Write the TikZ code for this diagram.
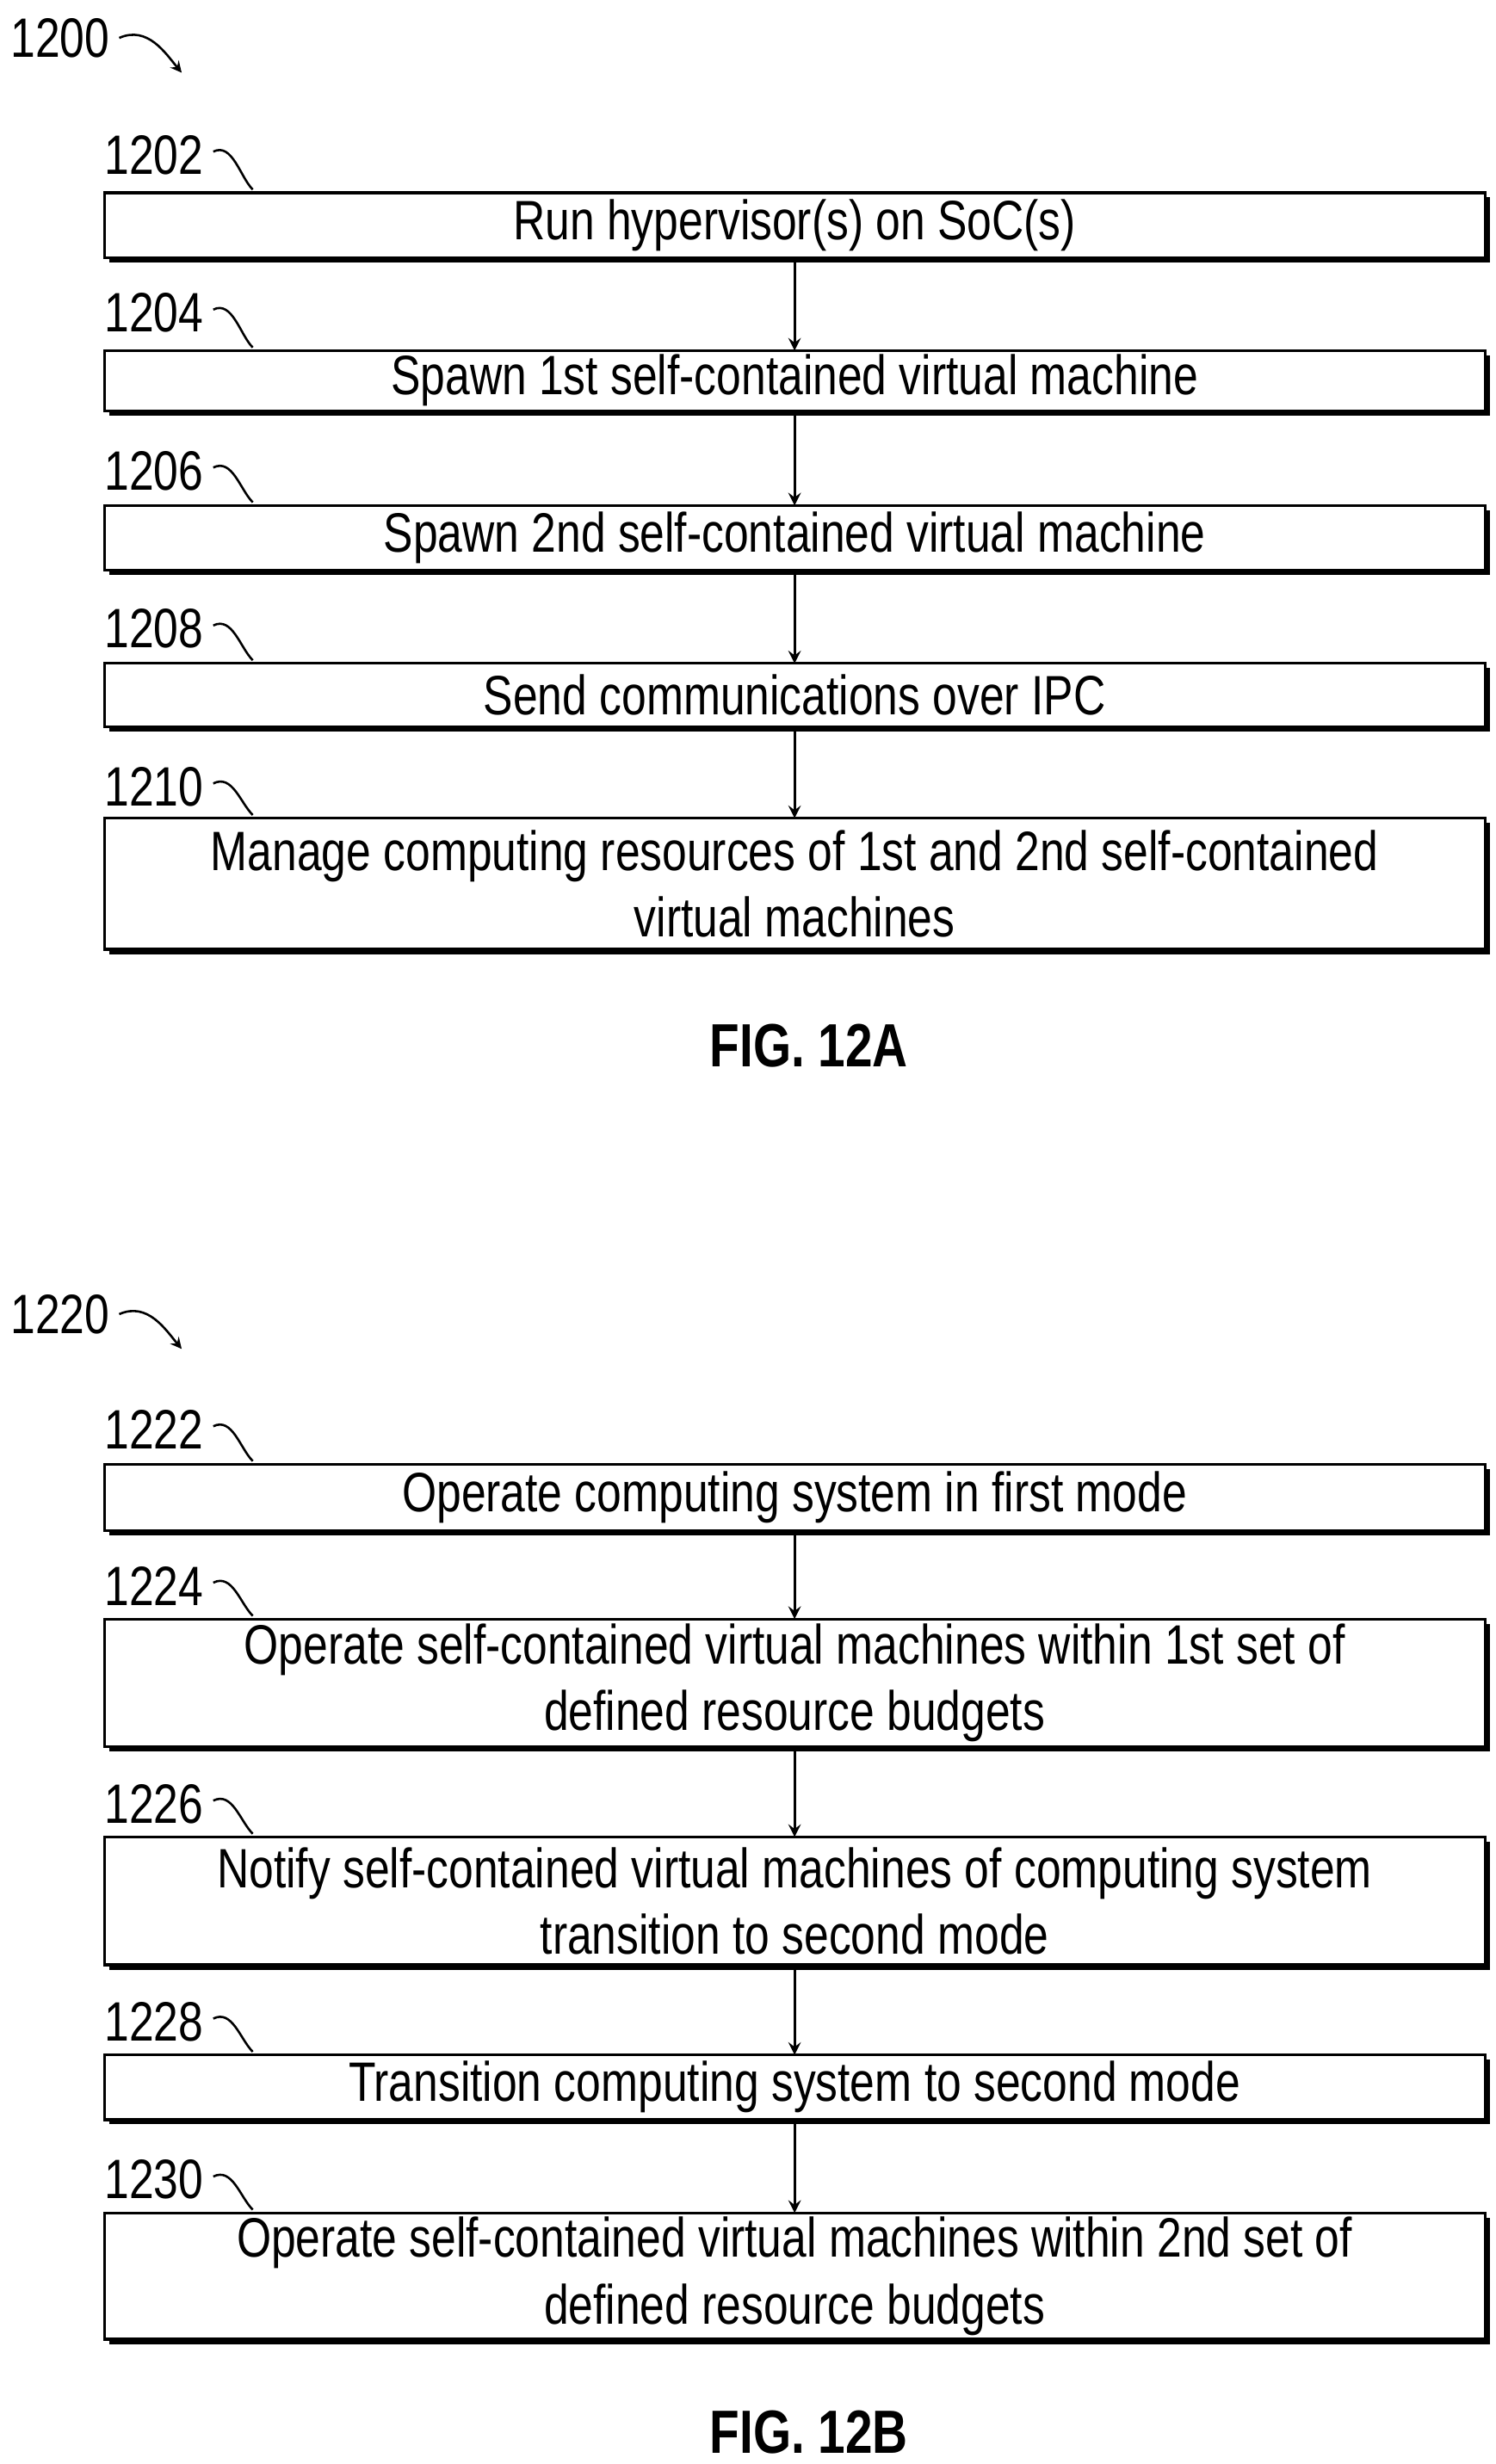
\documentclass[tikz,border=0pt]{standalone}
\usepackage{fontspec}
\setmainfont{Liberation Sans}[FakeStretch=0.8]
\usetikzlibrary{calc}
\begin{document}
\begin{tikzpicture}[x=0.02cm,y=-0.02cm,
    procbox/.style={inner sep=0pt,align=center,font=\fontsize{20}{24}\selectfont},
    flow/.style={->,line width=1pt,>=stealth},
    tag/.style={font=\fontsize{20}{24}\selectfont,anchor=east}]
\useasboundingbox (0,0) rectangle (947,1560);
%%% BOXES %%%
\newcommand{\stepbox}[5]{%
  \fill ($(#2,#3)+(3,3)$) rectangle ($(940,#4)+(3,3)$);
  \draw[line width=1pt,fill=white] (66,#3) rectangle (940,#4);
  \coordinate (#1-n) at (503,#3); \coordinate (#1-s) at (503,#4);
  \node[procbox] (#1) at (503,{(#3+#4)/2}) {#5};}
\newcommand{\reftag}[3]{%
  \node[tag] (t#1) at (135,#2) {#1};
  \draw[line width=0.8pt] (t#1.east) ++(0,-2) .. controls +(12,-6) and +(-8,-8) .. (160,#3);}
%%% FIG 12A %%%
\node[font=\fontsize{20}{24}\selectfont] (f1200) at (38,24) {1200};
\draw[line width=0.8pt,-stealth] (f1200.east) .. controls +(18,-8) and +(-10,-12) .. (115,46);
\reftag{1202}{98}{120}
\reftag{1204}{198}{220}
\reftag{1206}{298}{318}
\reftag{1208}{398}{418}
\reftag{1210}{498}{516}
\stepbox{b1}{66}{122}{163}{Run hypervisor(s) on SoC(s)}
\stepbox{b2}{66}{222}{260}{Spawn 1st self-contained virtual machine}
\stepbox{b3}{66}{320}{361}{Spawn 2nd self-contained virtual machine}
\stepbox{b4}{66}{420}{460}{Send communications over IPC}
\stepbox{b5}{66}{518}{601}{Manage computing resources of 1st and 2nd self-contained\\virtual machines}
\draw[flow] (b1-s) -- (b2-n);
\draw[flow] (b2-s) -- (b3-n);
\draw[flow] (b3-s) -- (b4-n);
\draw[flow] (b4-s) -- (b5-n);
\node[font=\bfseries\fontsize{22}{26}\selectfont] (fa) at (512,662) {FIG. 12A};
%%% FIG 12B %%%
\node[font=\fontsize{20}{24}\selectfont] (f1220) at (38,832) {1220};
\draw[line width=0.8pt,-stealth] (f1220.east) .. controls +(18,-8) and +(-10,-12) .. (115,854);
\reftag{1222}{905}{925}
\reftag{1224}{1004}{1023}
\reftag{1226}{1142}{1161}
\reftag{1228}{1280}{1299}
\reftag{1230}{1380}{1399}
\stepbox{c1}{66}{927}{969}{Operate computing system in first mode}
\stepbox{c2}{66}{1025}{1106}{Operate self-contained virtual machines within 1st set of\\defined resource budgets}
\stepbox{c3}{66}{1163}{1244}{Notify self-contained virtual machines of computing system\\transition to second mode}
\stepbox{c4}{66}{1301}{1342}{Transition computing system to second mode}
\stepbox{c5}{66}{1401}{1481}{Operate self-contained virtual machines within 2nd set of\\defined resource budgets}
\draw[flow] (c1-s) -- (c2-n);
\draw[flow] (c2-s) -- (c3-n);
\draw[flow] (c3-s) -- (c4-n);
\draw[flow] (c4-s) -- (c5-n);
\node[font=\bfseries\fontsize{22}{26}\selectfont] (fb) at (512,1540) {FIG. 12B};
\end{tikzpicture}
\end{document}
